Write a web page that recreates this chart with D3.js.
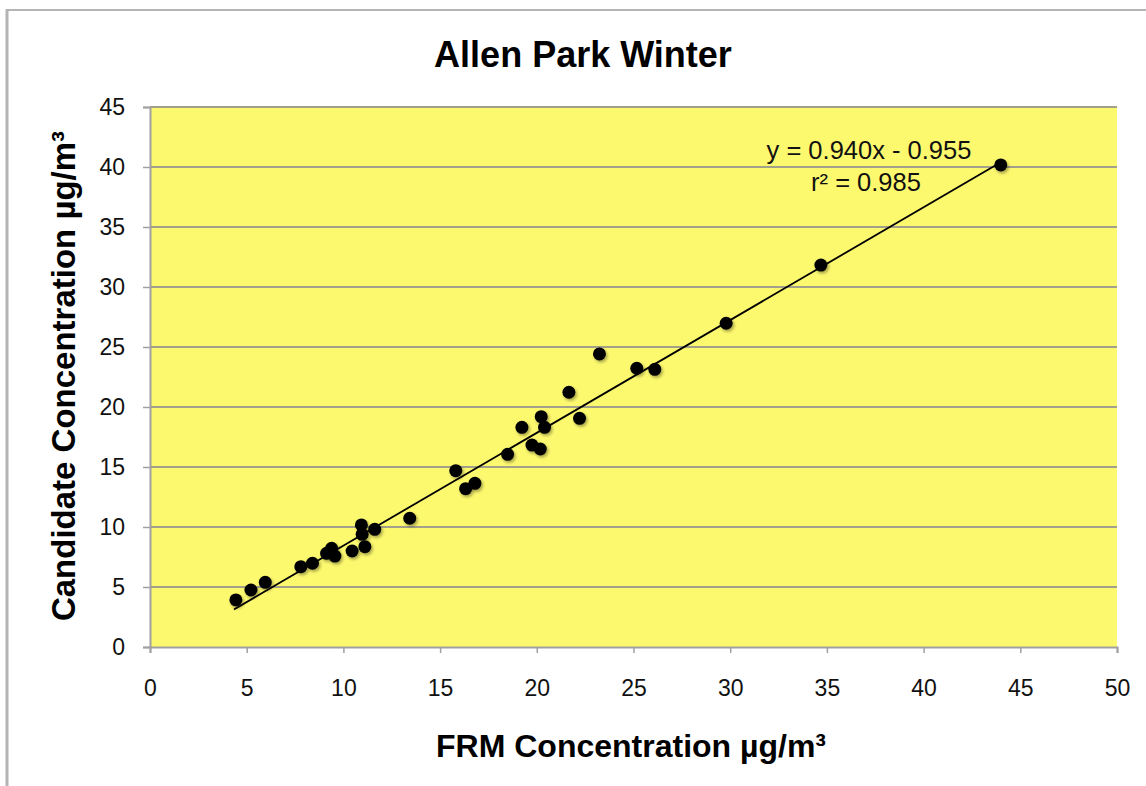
<!DOCTYPE html>
<html>
<head>
<meta charset="utf-8">
<script src="https://cdn.jsdelivr.net/npm/d3@7"></script>
<style>
  html, body { margin: 0; padding: 0; background: #ffffff; }
  svg { display: block; font-family: "Liberation Sans", Arial, Helvetica, sans-serif; }
</style>
</head>
<body>
<svg id="chart" width="1146" height="786"></svg>
<script>
// ---- Data ----
const chartTitle = "Allen Park Winter";
const xAxisTitle = "FRM Concentration \u00b5g/m\u00b3";
const yAxisTitle = "Candidate Concentration \u00b5g/m\u00b3";
const xTicks = [0, 5, 10, 15, 20, 25, 30, 35, 40, 45, 50];
const yTicks = [0, 5, 10, 15, 20, 25, 30, 35, 40, 45];
const frmValues = [4.44, 5.22, 5.96, 7.80, 8.40, 9.13, 9.39, 9.56, 10.45, 10.93, 10.97, 11.11, 11.62, 13.43,
  15.81, 16.32, 16.80, 18.49, 19.23, 19.75, 20.18, 20.23, 20.40, 21.66, 22.21, 23.24, 25.17, 26.10,
  29.79, 34.69, 43.99];
const candidateValues = [3.92, 4.75, 5.39, 6.69, 6.98, 7.81, 8.23, 7.58, 8.00, 10.17, 9.39, 8.36, 9.81, 10.73,
  14.69, 13.19, 13.64, 16.06, 18.31, 16.83, 16.50, 19.19, 18.31, 21.23, 19.06, 24.42, 23.23, 23.14,
  26.98, 31.83, 40.17];
const regressionSlope = [0.940];
const regressionIntercept = [-0.955];
const equationLines = ["y = 0.940x - 0.955", "r\u00b2 = 0.985"];

// ---- Layout ----
const svg = d3.select("#chart");
const plot = { left: 150, right: 1117, top: 107, bottom: 647 };

const x = d3.scaleLinear().domain([0, 50]).range([plot.left, plot.right]);
const y = d3.scaleLinear().domain([0, 45]).range([plot.bottom, plot.top]);

// outer frame (partial border of the figure)
svg.append("line").attr("x1", 6).attr("x2", 1146).attr("y1", 10).attr("y2", 10)
  .attr("stroke", "#b4b4b4").attr("stroke-width", 2);
svg.append("line").attr("x1", 7).attr("x2", 7).attr("y1", 9).attr("y2", 786)
  .attr("stroke", "#b4b4b4").attr("stroke-width", 3);

// shadow filter
const defs = svg.append("defs");
const f = defs.append("filter").attr("id", "shadow").attr("x", "-50%").attr("y", "-50%").attr("width", "200%").attr("height", "200%");
f.append("feDropShadow").attr("dx", 1.5).attr("dy", 2).attr("stdDeviation", 1.5)
  .attr("flood-color", "#000").attr("flood-opacity", 0.35);

// plot background
svg.append("rect")
  .attr("x", plot.left).attr("y", plot.top)
  .attr("width", plot.right - plot.left).attr("height", plot.bottom - plot.top)
  .attr("fill", "#fdf96f");

// horizontal gridlines
svg.append("g").selectAll("line").data(yTicks.filter(d => d > 0)).join("line")
  .attr("x1", plot.left).attr("x2", plot.right)
  .attr("y1", d => y(d)).attr("y2", d => y(d))
  .attr("stroke", "#a3a08a").attr("stroke-width", 2);

// axes
const xAxis = d3.axisBottom(x).tickValues(xTicks).tickSize(6).tickPadding(27).tickFormat(d3.format("d"));
const yAxis = d3.axisLeft(y).tickValues(yTicks).tickSize(7).tickPadding(10).tickFormat(d3.format("d"));

const gx = svg.append("g").attr("transform", `translate(0,${plot.bottom})`).call(xAxis);
const gy = svg.append("g").attr("transform", `translate(${plot.left},0)`).call(yAxis);

[gx, gy].forEach(g => {
  g.select(".domain").attr("stroke", "#a0a0a0").attr("stroke-width", 2);
  g.selectAll(".tick line").attr("stroke", "#a0a0a0").attr("stroke-width", 1.5);
  g.selectAll(".tick text").attr("fill", "#111").attr("font-size", 23)
    .attr("font-family", "'Liberation Sans', Arial, sans-serif");
});
gy.selectAll(".tick text").attr("dx", -8);

// regression line
const xMin = d3.min(frmValues), xMax = d3.max(frmValues);
const regFn = v => regressionSlope[0] * v + regressionIntercept[0];
svg.append("line")
  .attr("x1", x(xMin - 0.1)).attr("y1", y(regFn(xMin - 0.1)))
  .attr("x2", x(xMax)).attr("y2", y(regFn(xMax)))
  .attr("stroke", "#000").attr("stroke-width", 1.8);

// points
svg.append("g").selectAll("circle").data(frmValues.map((v, i) => [v, candidateValues[i]])).join("circle")
  .attr("cx", d => x(d[0])).attr("cy", d => y(d[1])).attr("r", 6.5)
  .attr("fill", "#000").attr("filter", "url(#shadow)");

// equation
svg.append("g").selectAll("text").data(equationLines).join("text")
  .attr("x", (d, i) => i === 0 ? 869 : 866)
  .attr("y", (d, i) => 159 + i * 32)
  .attr("text-anchor", "middle").attr("font-size", 25.5).attr("fill", "#111")
  .text(d => d);

// title
svg.append("text").attr("x", 583).attr("y", 67).attr("text-anchor", "middle")
  .attr("font-size", 36).attr("font-weight", "bold").attr("fill", "#000").text(chartTitle);

// axis titles
svg.append("text").attr("x", 631).attr("y", 757).attr("text-anchor", "middle")
  .attr("font-size", 32).attr("font-weight", "bold").attr("fill", "#000").text(xAxisTitle);

svg.append("text").attr("transform", `translate(75,376) rotate(-90)`).attr("text-anchor", "middle")
  .attr("font-size", 33).attr("font-weight", "bold").attr("fill", "#000").text(yAxisTitle);
</script>
</body>
</html>
